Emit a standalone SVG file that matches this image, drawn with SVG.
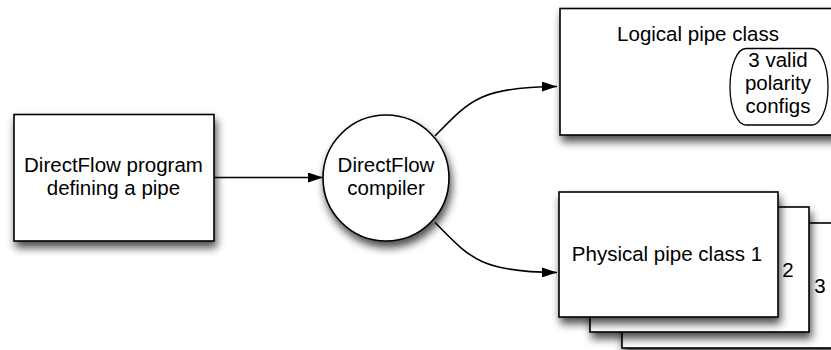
<svg xmlns="http://www.w3.org/2000/svg" width="831" height="350" viewBox="0 0 831 350">
<defs>
<filter id="sh" x="-20%" y="-20%" width="150%" height="160%">
<feDropShadow dx="2" dy="6" stdDeviation="4" flood-color="#000" flood-opacity="0.7"/>
</filter>
<marker id="ah" viewBox="0 0 15 10" refX="15" refY="5" markerWidth="15" markerHeight="10" markerUnits="userSpaceOnUse" orient="auto">
<path d="M0,0 L15,5 L0,10 Z" fill="#000"/>
</marker>
</defs>
<style>
.box{fill:#fff;stroke:#000;stroke-width:1.6}
.t{font-family:"Liberation Sans",Arial,sans-serif;font-size:20.5px;fill:#000;text-anchor:middle}
.c{fill:none;stroke:#000;stroke-width:1.6}
</style>
<g id="program">
<rect class="box" x="14" y="114.5" width="200" height="126.5" filter="url(#sh)"/>
<text class="t" x="113.5" y="172">DirectFlow program</text>
<text class="t" x="113.5" y="195">defining a pipe</text>
</g>
<g id="compiler">
<circle class="box" cx="386" cy="178" r="63" filter="url(#sh)"/>
<text class="t" x="386" y="171.5">DirectFlow</text>
<text class="t" x="386" y="194.5">compiler</text>
</g>
<g id="logical">
<rect class="box" x="560" y="8.5" width="290" height="126.5" filter="url(#sh)"/>
<text class="t" x="698" y="41">Logical pipe class</text>
<rect x="730" y="48.5" width="98" height="76.5" rx="16" ry="38" fill="#fff" stroke="#000" stroke-width="1.3"/>
<text class="t" x="778" y="67">3 valid</text>
<text class="t" x="778" y="90">polarity</text>
<text class="t" x="778" y="112.5">configs</text>
</g>
<g id="physical3">
<rect class="box" x="622" y="223" width="230" height="125" filter="url(#sh)"/>
<text class="t" x="820" y="293">3</text>
</g>
<g id="physical2">
<rect class="box" x="590" y="207" width="219" height="125" filter="url(#sh)"/>
<text class="t" x="788" y="277">2</text>
</g>
<g id="physical1">
<rect class="box" x="559" y="192" width="219" height="125" filter="url(#sh)"/>
<text class="t" x="667" y="261">Physical pipe class 1</text>
</g>
<g id="connectors">
<path class="c" d="M435,136 C470,100 480,87 557,86.5" marker-end="url(#ah)"/>
<path class="c" d="M214,177.5 L323,177.5" marker-end="url(#ah)"/>
<path class="c" d="M435,222.5 C470,258 480,272 557,272.5" marker-end="url(#ah)"/>
</g>
</svg>
